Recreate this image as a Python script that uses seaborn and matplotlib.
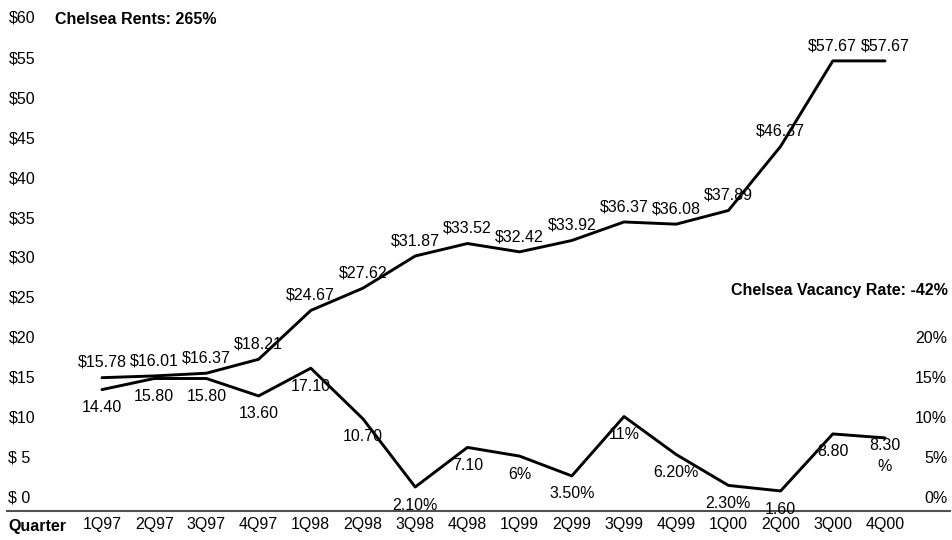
import numpy as np
import matplotlib
matplotlib.use("Agg")
import matplotlib.pyplot as plt
import seaborn as sns

quarters = ["1Q97", "2Q97", "3Q97", "4Q97", "1Q98", "2Q98", "3Q98", "4Q98",
            "1Q99", "2Q99", "3Q99", "4Q99", "1Q00", "2Q00", "3Q00", "4Q00"]
rents = [15.78, 16.01, 16.37, 18.21, 24.67, 27.62, 31.87, 33.52,
         32.42, 33.92, 36.37, 36.08, 37.89, 46.37, 57.67, 57.67]
rent_labels = ["$%.2f" % r for r in rents]
vacancy = [14.4, 15.8, 15.8, 13.6, 17.1, 10.7, 2.1, 7.1,
           6.0, 3.5, 11.0, 6.2, 2.3, 1.6, 8.8, 8.3]
vacancy_labels = ["14.40", "15.80", "15.80", "13.60", "17.10", "10.70", "2.10%", "7.10",
                  "6%", "3.50%", "11%", "6.20%", "2.30%", "1.60", "8.80", "8.30\n%"]
left_ticks = [0, 5, 10, 15, 20, 25, 30, 35, 40, 45, 50, 55, 60]
left_tick_labels = ["$ 0", "$ 5", "$10", "$15", "$20", "$25", "$30", "$35",
                    "$40", "$45", "$50", "$55", "$60"]
right_ticks = [0, 5, 10, 15, 20]
right_tick_labels = ["0%", "5%", "10%", "15%", "20%"]

sns.set_style("white")
plt.rcParams['font.family'] = ['Liberation Sans', 'DejaVu Sans']
plt.rcParams['text.color'] = 'black'
plt.rcParams['xtick.color'] = 'black'
plt.rcParams['ytick.color'] = 'black'
fs = 11.5

fig = plt.figure(figsize=(9.53, 5.4), dpi=100)
ax = fig.add_axes([7 / 953, 29 / 540, 943 / 953, 501 / 540])
ax_r = ax.twinx()
ax_rent = ax.twinx()
ax_vac = ax.twinx()

x = np.arange(len(quarters))
sns.lineplot(x=x, y=rents, ax=ax_rent, color="black", lw=2.1)
sns.lineplot(x=x, y=vacancy, ax=ax_vac, color="black", lw=2.1)

for xi, yi, t in zip(x, rents, rent_labels):
    ax_rent.annotate(t, (xi, yi), xytext=(0, 11), textcoords="offset points",
                     ha="center", va="center", fontsize=fs, color="black")
for xi, yi, t in zip(x, vacancy, vacancy_labels):
    ax_vac.annotate(t, (xi, yi), xytext=(0, -13), textcoords="offset points",
                    ha="center", va="center", fontsize=fs, linespacing=1.5,
                    color="black")

ax.set_xlim(-1.82, 16.245)
ax.set_ylim(-1.75, 60.875)
ax_r.set_ylim(-1.75, 60.875)
ax_rent.set_ylim(-1.85, 64.4)
ax_vac.set_ylim(-0.93, 62.33)

ax.set_xticks(x)
ax.set_xticklabels(quarters, fontsize=fs)
ax.set_yticks(left_ticks)
ax.set_yticklabels(left_tick_labels, fontsize=fs)
ax.tick_params(axis="y", length=0, pad=-1)
ax.tick_params(axis="x", length=0, pad=4)
plt.setp(ax.get_yticklabels(), ha="left")

ax_r.set_yticks(right_ticks)
ax_r.set_yticklabels(right_tick_labels, fontsize=fs)
ax_r.tick_params(axis="y", length=0, pad=-2)
plt.setp(ax_r.get_yticklabels(), ha="right")

for a in (ax_rent, ax_vac):
    a.set_yticks([])
    a.set_ylabel("")
for a in (ax, ax_r, ax_rent, ax_vac):
    for s in a.spines.values():
        s.set_visible(False)
ax.spines["bottom"].set_visible(True)
ax.spines["bottom"].set_color("#505050")
ax.spines["bottom"].set_linewidth(1.5)
ax.grid(False)

fig.text(55 / 953, 1 - 20 / 540, "Chelsea Rents: 265%", fontsize=fs,
         fontweight="bold", va="center", ha="left")
fig.text(948 / 953, 1 - 290 / 540, "Chelsea Vacancy Rate: -42%", fontsize=fs,
         fontweight="bold", va="center", ha="right")
fig.text(8 / 953, 1 - 526 / 540, "Quarter", fontsize=fs,
         fontweight="bold", va="center", ha="left")

fig.savefig("out.png", dpi=100)
